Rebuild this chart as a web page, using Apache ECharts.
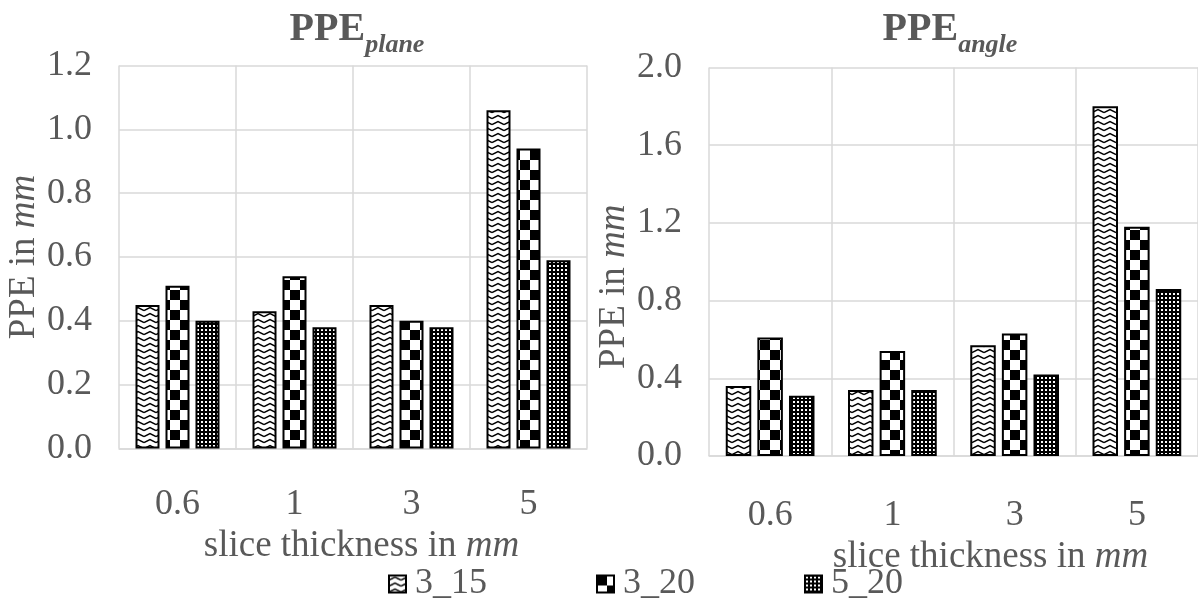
<!DOCTYPE html>
<html>
<head>
<meta charset="utf-8">
<script src="https://cdn.jsdelivr.net/npm/echarts@6/dist/echarts.min.js"></script>
<style>html,body{margin:0;padding:0;background:#fff}#c{width:1198px;height:605px}</style>
</head>
<body>
<div id="c"></div>
<script>
// ---- data ----
const categories = ['0.6', '1', '3', '5'];
const seriesNames = ['3_15', '3_20', '5_20'];
const plane_3_15 = [0.45, 0.43, 0.45, 1.06];
const plane_3_20 = [0.51, 0.54, 0.40, 0.94];
const plane_5_20 = [0.40, 0.38, 0.38, 0.59];
const angle_3_15 = [0.36, 0.34, 0.57, 1.80];
const angle_3_20 = [0.61, 0.54, 0.63, 1.18];
const angle_5_20 = [0.31, 0.34, 0.42, 0.86];

// ---- styles ----
const FONT = "'Liberation Serif', 'Times New Roman', serif";
const TXT = '#595959';
const GRID = '#d9d9d9';

function makePattern(kind) {
  const c = document.createElement('canvas');
  const ctx = c.getContext('2d');
  if (kind === 'zigzag') {
    c.width = 12; c.height = 6;
    ctx.fillStyle = '#fff'; ctx.fillRect(0, 0, 12, 6);
    ctx.strokeStyle = '#000'; ctx.lineWidth = 1.4;
    ctx.beginPath(); ctx.moveTo(0, 4.5); ctx.lineTo(6, 1.5); ctx.lineTo(12, 4.5); ctx.stroke();
  } else if (kind === 'checker') {
    c.width = 20; c.height = 20;
    ctx.fillStyle = '#fff'; ctx.fillRect(0, 0, 20, 20);
    ctx.fillStyle = '#000'; ctx.fillRect(0, 0, 10, 10); ctx.fillRect(10, 10, 10, 10);
  } else {
    c.width = 4; c.height = 4;
    ctx.fillStyle = '#000'; ctx.fillRect(0, 0, 4, 4);
    ctx.fillStyle = '#fff'; ctx.fillRect(1, 1, 2, 2);
  }
  return { image: c, repeat: 'repeat' };
}
const patterns = [makePattern('zigzag'), makePattern('checker'), makePattern('dots')];

function richName(size, pad) {
  return {
    fontFamily: FONT, fontSize: size, color: TXT, padding: pad,
    rich: {
      r: { fontFamily: FONT, fontSize: size, color: TXT },
      i: { fontFamily: FONT, fontSize: size, color: TXT, fontStyle: 'italic' }
    }
  };
}
function titleRich() {
  return {
    a: { fontFamily: FONT, fontSize: 40, fontWeight: 'bold', color: TXT, lineHeight: 40, verticalAlign: 'top' },
    b: { fontFamily: FONT, fontSize: 26, fontStyle: 'italic', color: TXT, lineHeight: 48, verticalAlign: 'bottom' }
  };
}

const grids = [
  { left: 119, top: 65.5, width: 468, height: 383 },
  { left: 709, top: 67.5, width: 496, height: 388.5 }
];

function xAxis(idx, margin, nameGap, namePad) {
  return {
    type: 'category', gridIndex: idx, data: categories,
    axisTick: { show: false },
    axisLine: { show: true, lineStyle: { color: GRID, width: 1.5 } },
    splitLine: { show: true, lineStyle: { color: GRID, width: 1.5 } },
    axisLabel: { fontFamily: FONT, fontSize: 36, color: TXT, margin: margin },
    name: '{r|slice thickness in }{i|mm}', nameLocation: 'middle', nameGap: nameGap,
    nameTextStyle: richName(37, namePad)
  };
}
function yAxis(idx, max, interval, nameGap, namePad) {
  return {
    type: 'value', gridIndex: idx, min: 0, max: max, interval: interval,
    axisLine: { show: false }, axisTick: { show: false },
    splitLine: { show: true, lineStyle: { color: GRID, width: 1.5 } },
    axisLabel: { fontFamily: FONT, fontSize: 36, color: TXT, margin: 27, formatter: v => v.toFixed(1) },
    name: '{r|PPE in }{i|mm}', nameLocation: 'middle', nameRotate: 90, nameGap: nameGap,
    nameTextStyle: richName(37, namePad)
  };
}

const planeData = [plane_3_15, plane_3_20, plane_5_20];
const angleData = [angle_3_15, angle_3_20, angle_5_20];
const series = [];
[planeData, angleData].forEach((set, gi) => {
  set.forEach((vals, si) => {
    series.push({
      type: 'bar', name: seriesNames[si], xAxisIndex: gi, yAxisIndex: gi,
      data: vals, barWidth: gi === 0 ? 24 : 25.5, barGap: gi === 0 ? '25%' : '24%',
      itemStyle: { color: patterns[si], borderColor: '#000', borderWidth: 2 },
      emphasis: { disabled: true }
    });
  });
});

const chart = echarts.init(document.getElementById('c'), null, { renderer: 'canvas' });
chart.setOption({
  animation: false,
  backgroundColor: '#fff',
  title: [
    { text: '{a|PPE}{b|plane}', left: 357, top: 10, textAlign: 'center', padding: 0, textStyle: { rich: titleRich() } },
    { text: '{a|PPE}{b|angle}', left: 950, top: 10, textAlign: 'center', padding: 0, textStyle: { rich: titleRich() } }
  ],
  grid: grids,
  xAxis: [xAxis(0, 38, 78, [0, 0, 0, 17]), xAxis(1, 42, 80, [0, 0, 0, 74])],
  yAxis: [yAxis(0, 1.2, 0.2, 70, [0, 0, 0, 0]), yAxis(1, 2.0, 0.4, 66, [0, 50, 0, 0])],
  legend: {
    data: seriesNames, left: 388, top: 566, padding: 0,
    icon: 'rect', itemWidth: 17, itemHeight: 17, itemGap: 109,
    textStyle: { fontFamily: FONT, fontSize: 36, color: TXT, lineHeight: 36, padding: [0, 0, 0, 4] }
  },
  series: series
});
</script>
</body>
</html>
